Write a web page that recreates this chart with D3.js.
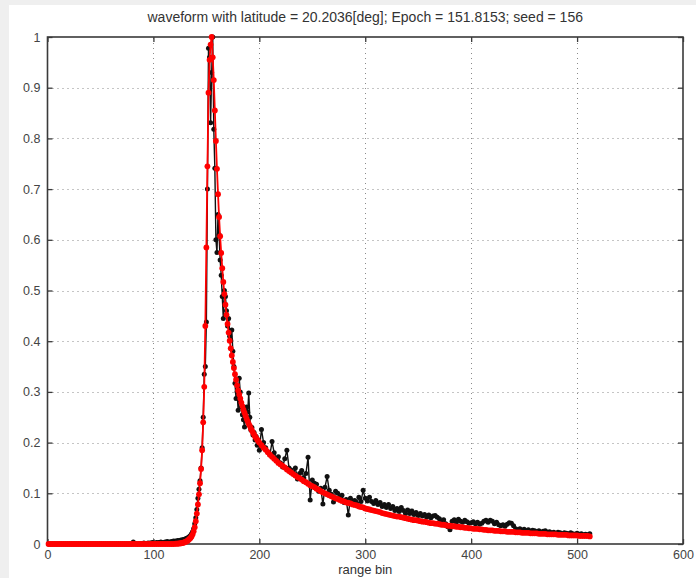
<!DOCTYPE html>
<html><head><meta charset="utf-8">
<script src="https://cdn.jsdelivr.net/npm/d3@7"></script>
<style>
body{margin:0;background:#fff;}
text{font-family:"Liberation Sans","DejaVu Sans",sans-serif;}
</style></head><body>
<svg id="c" width="696" height="578"></svg>
<script>
const titleText = "waveform with latitude = 20.2036[deg]; Epoch = 151.8153; seed = 156";
const xLabel = "range bin";
const xTicks = [0,100,200,300,400,500,600];
const yTicks = [0,0.1,0.2,0.3,0.4,0.5,0.6,0.7,0.8,0.9,1];
const yTickLabels = ["0","0.1","0.2","0.3","0.4","0.5","0.6","0.7","0.8","0.9","1"];

// measured waveform (black): bins 1..119 step 2, 121..200 step 1, 202..512 step 2
const measuredHead = [
0,0,0,0,0,0,0,0,0,0,
0,0,0,0,0,0,0,0,0,0,
0,0,0,0,0,0,0,0,0,0,
0,0,0,0,0,0,0,0,0,0,
0.004,0.001,0,0.001,0.001,0.002,0.001,0.002,0.002,0.003,
0.002,0.003,0.003,0.004,0.003,0.004,0.005,0.004,0.005,0.006];
const measuredPeak = [
0.006,0.005,0.007,0.006,0.007,0.008,0.007,0.009,0.008,0.010,
0.011,0.012,0.013,0.015,0.017,0.020,0.024,0.030,0.040,0.052,
0.068,0.090,0.108,0.125,0.150,0.190,0.250,0.335,0.350,0.438,
0.700,0.978,0.960,0.831,0.930,1.000,0.818,0.741,0.600,0.575,
0.650,0.610,0.560,0.530,0.488,0.445,0.500,0.488,0.460,0.430,
0.445,0.410,0.402,0.422,0.380,0.350,0.317,0.287,0.300,0.264,
0.327,0.300,0.270,0.255,0.245,0.231,0.250,0.270,0.260,0.298,
0.250,0.225,0.230,0.215,0.220,0.205,0.212,0.195,0.205,0.185];
const measuredTail = [
0.226,0.200,0.190,0.182,0.176,0.202,0.180,0.168,0.172,0.160,
0.152,0.168,0.185,0.150,0.146,0.140,0.150,0.128,0.139,0.145,
0.130,0.139,0.171,0.087,0.126,0.120,0.118,0.104,0.110,0.079,
0.112,0.133,0.106,0.098,0.083,0.104,0.100,0.092,0.096,0.082,
0.088,0.057,0.090,0.085,0.086,0.080,0.092,0.084,0.106,0.090,
0.085,0.092,0.084,0.080,0.086,0.078,0.082,0.074,0.078,0.072,
0.078,0.070,0.074,0.066,0.070,0.064,0.072,0.066,0.060,0.067,
0.060,0.065,0.058,0.062,0.056,0.060,0.055,0.058,0.053,0.057,
0.052,0.055,0.056,0.053,0.050,0.045,0.048,0.040,0.034,0.028,
0.045,0.048,0.043,0.049,0.045,0.043,0.047,0.044,0.041,0.042,
0.044,0.040,0.043,0.039,0.041,0.045,0.047,0.043,0.047,0.045,
0.040,0.043,0.038,0.036,0.038,0.035,0.039,0.042,0.041,0.036,
0.030,0.028,0.030,0.027,0.029,0.026,0.028,0.025,0.027,0.026,
0.024,0.026,0.023,0.025,0.026,0.023,0.024,0.022,0.023,0.021,
0.023,0.022,0.020,0.022,0.021,0.020,0.022,0.020,0.019,0.021,
0.019,0.020,0.018,0.019,0.018,0.020];

// model waveform (red)
const modelHead = [
0,0,0,0,0,0,0,0,0,0,
0,0,0,0,0,0,0,0,0,0,
0,0,0,0,0,0,0,0,0,0,
0,0,0,0,0,0,0,0,0,0,
0,0,0,0,0,0,0,0,0,0,
0,0,0,0,0,0,0,0,0,0];
const modelPeak = [
0.0005,0.0006,0.0008,0.001,0.0012,0.0015,0.002,0.0025,0.003,0.004,
0.005,0.006,0.008,0.010,0.012,0.015,0.019,0.025,0.033,0.045,
0.060,0.078,0.098,0.120,0.148,0.185,0.240,0.310,0.430,0.585,
0.745,0.890,0.955,0.985,1.000,0.960,0.915,0.855,0.795,0.740,
0.690,0.645,0.607,0.574,0.544,0.517,0.493,0.472,0.452,0.434,
0.417,0.401,0.386,0.372,0.359,0.347,0.335,0.324,0.313,0.303,
0.295,0.287,0.279,0.272,0.265,0.259,0.253,0.247,0.242,0.237,
0.233,0.228,0.224,0.220,0.216,0.212,0.209,0.206,0.203,0.200];
const modelTail = [
0.195,0.190,0.186,0.181,0.176,0.172,0.168,0.164,0.160,0.157,
0.154,0.151,0.147,0.144,0.141,0.138,0.135,0.132,0.130,0.127,
0.124,0.122,0.119,0.116,0.114,0.112,0.109,0.107,0.104,0.102,
0.100,0.098,0.096,0.094,0.092,0.090,0.089,0.087,0.085,0.084,
0.082,0.081,0.080,0.078,0.077,0.076,0.074,0.073,0.072,0.070,
0.069,0.068,0.067,0.066,0.065,0.064,0.063,0.061,0.060,0.059,
0.058,0.057,0.056,0.055,0.054,0.054,0.053,0.052,0.051,0.050,
0.049,0.048,0.047,0.047,0.046,0.045,0.044,0.044,0.043,0.042,
0.041,0.041,0.040,0.040,0.039,0.038,0.038,0.037,0.036,0.036,
0.035,0.035,0.034,0.034,0.033,0.033,0.032,0.032,0.031,0.031,
0.030,0.030,0.030,0.029,0.029,0.028,0.028,0.027,0.027,0.027,
0.026,0.026,0.026,0.025,0.025,0.025,0.024,0.024,0.024,0.024,
0.023,0.023,0.023,0.022,0.022,0.022,0.022,0.021,0.021,0.021,
0.021,0.020,0.020,0.020,0.020,0.019,0.019,0.019,0.019,0.019,
0.018,0.018,0.018,0.018,0.018,0.017,0.017,0.017,0.017,0.017,
0.016,0.016,0.016,0.016,0.016,0.015];

const bins = d3.range(1,120,2).concat(d3.range(121,201), d3.range(202,513,2));
const measured = measuredHead.concat(measuredPeak, measuredTail);
const model = modelHead.concat(modelPeak, modelTail);

const svg = d3.select("#c");
// page shadow edge
svg.append("rect").attr("x",0).attr("y",0).attr("width",696).attr("height",578).attr("fill","#efefef");
svg.append("rect").attr("x",9).attr("y",5).attr("width",687).attr("height",573).attr("fill","#fff");

const L=47.5, R=683, T=37, B=544;
const x = d3.scaleLinear().domain([0,600]).range([L,R]);
const y = d3.scaleLinear().domain([0,1]).range([B,T]);

// grid
const grid = svg.append("g").attr("stroke","#8a8a8a").attr("stroke-width",1).attr("stroke-dasharray","1,4");
grid.selectAll("line.v").data(xTicks.slice(1,-1)).join("line")
  .attr("x1",d=>Math.round(x(d))+0.5).attr("x2",d=>Math.round(x(d))+0.5).attr("y1",B).attr("y2",T);
grid.selectAll("line.h").data(yTicks.slice(1,-1)).join("line")
  .attr("y1",d=>Math.round(y(d))+0.5).attr("y2",d=>Math.round(y(d))+0.5).attr("x1",L).attr("x2",R);

// axes
const axColor="#3a3a3a";
function styleAxis(g){
  g.select(".domain").remove();
  g.selectAll(".tick line").attr("stroke",axColor).attr("stroke-width",1.3);
  g.selectAll(".tick text").attr("fill","#444").attr("font-size",12.5);
}
svg.append("g").attr("transform",`translate(0,${B})`)
  .call(d3.axisBottom(x).tickValues(xTicks).tickSize(-5).tickPadding(6).tickFormat(d3.format("d"))).call(styleAxis);
svg.append("g").attr("transform",`translate(0,${T})`)
  .call(d3.axisTop(x).tickValues(xTicks).tickSize(-5).tickFormat("")).call(styleAxis);
svg.append("g").attr("transform",`translate(${L},0)`)
  .call(d3.axisLeft(y).tickValues(yTicks).tickSize(-5).tickPadding(7).tickFormat((d,i)=>yTickLabels[i])).call(styleAxis);
svg.append("g").attr("transform",`translate(${R},0)`)
  .call(d3.axisRight(y).tickValues(yTicks).tickSize(-5).tickFormat("")).call(styleAxis);

svg.append("rect").attr("x",L).attr("y",T).attr("width",R-L).attr("height",B-T)
  .attr("fill","none").attr("stroke",axColor).attr("stroke-width",1.6);

// series
const line = d3.line().x((d,i)=>x(bins[i])).y(d=>y(d));
svg.append("path").datum(measured).attr("d",line).attr("fill","none").attr("stroke","#111").attr("stroke-width",1.4);
svg.append("g").selectAll("circle").data(measured).join("circle")
  .attr("cx",(d,i)=>x(bins[i])).attr("cy",d=>y(d)).attr("r",2.5).attr("fill","#111");
svg.append("path").datum(model).attr("d",line).attr("fill","none").attr("stroke","#ff0000").attr("stroke-width",1.8);
svg.append("g").selectAll("circle").data(model).join("circle")
  .attr("cx",(d,i)=>x(bins[i])).attr("cy",d=>y(d)).attr("r",2.9).attr("fill","#ff0000");

// labels
svg.append("text").attr("x",(L+R)/2).attr("y",22).attr("text-anchor","middle")
  .attr("font-size",14).attr("fill","#333").text(titleText);
svg.append("text").attr("x",(L+R)/2).attr("y",574).attr("text-anchor","middle")
  .attr("font-size",13).attr("fill","#333").text(xLabel);
</script>
</body></html>
